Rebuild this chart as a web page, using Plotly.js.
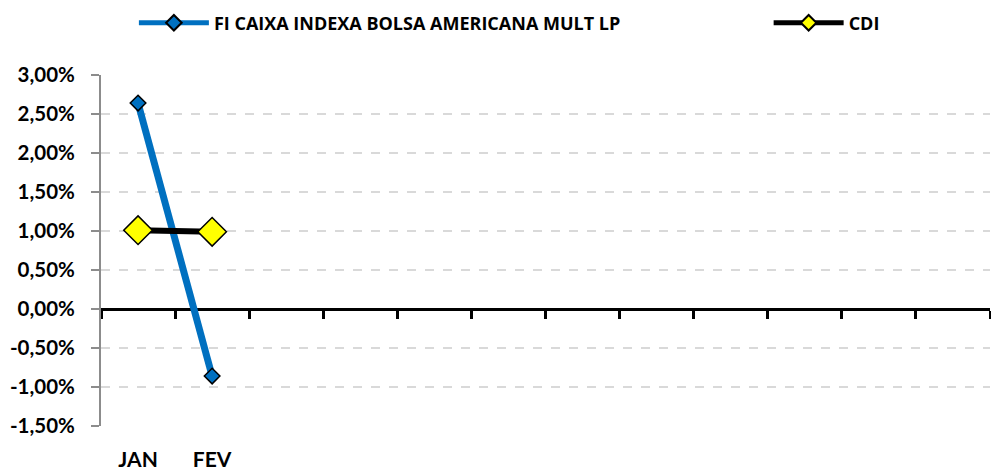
<!DOCTYPE html>
<html>
<head>
<meta charset="utf-8">
<script src="https://cdn.plot.ly/plotly-3.0.1.min.js"></script>
<style>html,body{margin:0;padding:0;background:#fff;}#chart{width:991px;height:470px;}</style>
</head>
<body>
<div id="chart"></div>
<script>
// ---- data ----
const months = ['JAN','FEV','MAR','ABR','MAI','JUN','JUL','AGO','SET','OUT','NOV','DEZ'];
const dataMonths = ['JAN','FEV'];
const fundName = 'FI CAIXA INDEXA BOLSA AMERICANA MULT LP';
const fundValues = [0.0264, -0.0086];
const cdiName = 'CDI';
const cdiValues = [0.0101, 0.0099];
const yTickVals = [-0.015,-0.01,-0.005,0,0.005,0.01,0.015,0.02,0.025,0.03];
const yTickText = ['-1,50%','-1,00%','-0,50%','0,00%','0,50%','1,00%','1,50%','2,00%','2,50%','3,00%'];

const FONT = 'Lato, "Open Sans", sans-serif';
const LEGFONT = '"Open Sans", Lato, sans-serif';

const traces = [
  {
    name: fundName, x: dataMonths, y: fundValues, type: 'scatter', mode: 'lines+markers',
    xaxis: 'x', yaxis: 'y', legend: 'legend',
    line: {color: '#0070C0', width: 7},
    marker: {symbol: 'diamond', size: 12, color: '#0070C0', line: {color: '#000', width: 1.5}}
  },
  {
    name: cdiName, x: dataMonths, y: cdiValues, type: 'scatter', mode: 'lines+markers',
    xaxis: 'x2', yaxis: 'y', legend: 'legend2',
    line: {color: '#000000', width: 6},
    marker: {symbol: 'diamond', size: 22, color: '#FFFF00', line: {color: '#000', width: 1.5}}
  }
];

const legendStyle = {
  orientation: 'h', xanchor: 'left', yanchor: 'middle', y: 1.148,
  itemwidth: 70, itemsizing: 'constant',
  font: {family: LEGFONT, size: 18, weight: 700},
  bgcolor: 'rgba(0,0,0,0)'
};

const layout = {
  width: 991, height: 470,
  margin: {l: 101, r: 1, t: 75, b: 44, autoexpand: false},
  paper_bgcolor: '#fff', plot_bgcolor: '#fff',
  font: {family: FONT, color: '#000'},
  showlegend: true,
  legend: Object.assign({}, legendStyle, {x: 0.037}),
  legend2: Object.assign({}, legendStyle, {x: 0.751}),
  xaxis: {
    type: 'category', categoryarray: months, categoryorder: 'array',
    range: [-0.5, 11.5], showgrid: false, zeroline: false, showline: false,
    ticks: '', tickmode: 'array', tickvals: dataMonths,
    ticklabelstandoff: 19,
    tickfont: {family: FONT, size: 21, weight: 700}
  },
  xaxis2: {
    type: 'category', categoryarray: months, categoryorder: 'array',
    range: [-0.5, 11.5], overlaying: 'x', anchor: 'free', position: 1/3,
    showgrid: false, zeroline: false, showline: true, linecolor: '#000', linewidth: 3,
    ticks: 'outside', ticklen: 8, tickwidth: 3, tickcolor: '#000', tickson: 'boundaries',
    showticklabels: false, layer: 'below traces'
  },
  yaxis: {
    range: [-0.015, 0.03], tickmode: 'array', tickvals: yTickVals, ticktext: yTickText,
    showline: true, linecolor: '#8c8c8c', linewidth: 2,
    ticks: 'outside', ticklen: 8, tickwidth: 2, tickcolor: '#8c8c8c',
    ticklabelstandoff: 12,
    showgrid: true, gridcolor: '#d9d9d9', griddash: 'dash', gridwidth: 1.5,
    zeroline: false,
    tickfont: {family: FONT, size: 20.5, weight: 700}
  }
};

Plotly.newPlot('chart', traces, layout, {displayModeBar: false, staticPlot: true});
</script>
</body>
</html>
